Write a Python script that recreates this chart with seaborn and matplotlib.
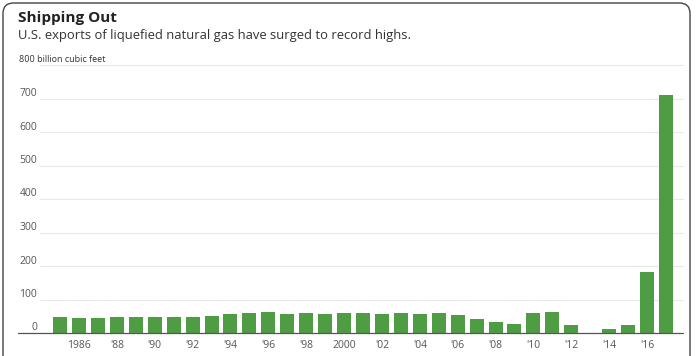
import matplotlib
matplotlib.use('Agg')
import matplotlib.pyplot as plt
import matplotlib.transforms as mtransforms
from matplotlib.lines import Line2D
from matplotlib.patches import FancyBboxPatch
import seaborn as sns
import pandas as pd

years = list(range(1985, 2018))
exports = [49, 44, 44, 47, 47, 47, 48, 48, 52, 58, 59, 63, 58, 59, 58,
           59, 59, 57, 59, 57, 59, 55, 43, 32, 27, 59, 64, 23, 0, 11, 24, 183, 710]
ytick_values = [0, 100, 200, 300, 400, 500, 600, 700]
ytick_top_label = "800 billion cubic feet"
xtick_years = list(range(1986, 2017, 2))
xtick_labels = ["1986", "'88", "'90", "'92", "'94", "'96", "'98", "2000",
                "'02", "'04", "'06", "'08", "'10", "'12", "'14", "'16"]
title = "Shipping Out"
subtitle = "U.S. exports of liquefied natural gas have surged to record highs."

sns.set_style("white")
plt.rcParams['font.family'] = ['Open Sans', 'DejaVu Sans']

W, H = 696, 356
fig = plt.figure(figsize=(W / 100, H / 100), dpi=100)
fig.patch.set_facecolor('white')

x0, x1, ybot, ytop = 40, 683, 333, 65
ax = fig.add_axes([x0 / W, (H - ybot) / H, (x1 - x0) / W, (ybot - ytop) / H])

df = pd.DataFrame({"year": years, "value": exports})
green = "#4e9d44"
sns.barplot(data=df, x="year", y="value", native_scale=True, color=green,
            width=0.74, saturation=1, ax=ax, linewidth=0, edgecolor="none", zorder=3)

ax.set_xlim(1983.94, 2017.9)
ax.set_ylim(0, 800)
for s in ax.spines.values():
    s.set_visible(False)
ax.set_xlabel("")
ax.set_ylabel("")

for v in ytick_values[1:] + [800]:
    ax.axhline(v, color="#e8e8e8", lw=0.8, zorder=0, clip_on=False)

# baseline
fig.add_artist(Line2D([18 / W, x1 / W], [(H - ybot) / H] * 2, color="#555555", lw=0.9))

ax.set_yticks([])
ax.set_xticks(xtick_years)
ax.set_xticklabels(xtick_labels)
ax.tick_params(axis='x', length=3, width=0.8, color="#333333", labelsize=7.5,
               labelcolor="#555555", pad=2, direction='out')

blend = mtransforms.blended_transform_factory(fig.transFigure, ax.transData)
off = mtransforms.ScaledTranslation(0, 5 / 100, fig.dpi_scale_trans)
for v in ytick_values:
    fig.text(37 / W, v, str(v), transform=blend + off, ha='right', va='center',
             fontsize=7.5, color="#555555")
fig.text(19 / W, 800, ytick_top_label, transform=blend + off, ha='left', va='center',
         fontsize=6.5, color="#333333")

fig.text(18 / W, 1 - 18 / H, title, fontsize=11, fontweight='bold', color="#222222",
         ha='left', va='center')
fig.text(18 / W, 1 - 36 / H, subtitle, fontsize=9.4, color="#333333",
         ha='left', va='center')

frame = FancyBboxPatch((3 / W, -0.1), (690 - 3) / W, 1.1 - 3 / H,
                       boxstyle="round,pad=0,rounding_size=0.015",
                       transform=fig.transFigure, fill=False, lw=1.0,
                       edgecolor="#444444", mutation_aspect=W / H)
fig.add_artist(frame)

fig.savefig("out.png", dpi=100)
